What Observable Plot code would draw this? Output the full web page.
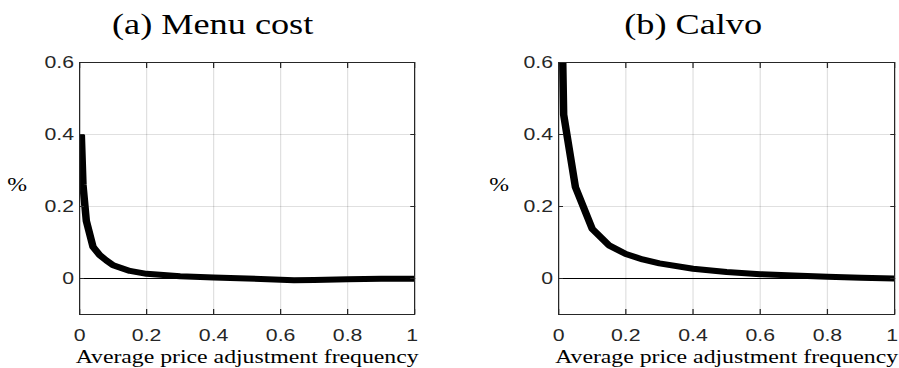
<!DOCTYPE html>
<html>
<head>
<meta charset="utf-8">
<script src="https://cdn.jsdelivr.net/npm/d3@7"></script>
<script src="https://cdn.jsdelivr.net/npm/@observablehq/plot@0.6"></script>
<style>
html, body { margin: 0; padding: 0; background: #fff; }
#fig { position: relative; width: 719.2px; height: 368px; transform: scaleX(1.25); transform-origin: 0 0; }
#fig svg { position: absolute; top: 0; overflow: visible; max-width: none; }
</style>
</head>
<body>
<div id="fig"></div>
<script>
// ---- data ----
const xTicks = [0, 0.2, 0.4, 0.6, 0.8];
const xTickLast = [1];
const xTickMarks = [0, 0.2, 0.4, 0.6, 0.8, 1];
const yTicks = [0, 0.2, 0.4, 0.6];
const gridXTicks = [0.2, 0.4, 0.6, 0.8];
const gridYTicks = [0.2, 0.4];
const titles = ["(a) Menu cost", "(b) Calvo"];
const xLabel = "Average price adjustment frequency";
const yLabel = "%";

const menuX = [0.005, 0.01, 0.02, 0.04, 0.06, 0.08, 0.1, 0.15, 0.2, 0.3, 0.4, 0.5, 0.64, 0.7, 0.8, 0.9, 1];
const menuY = [0.40, 0.26, 0.16, 0.088, 0.065, 0.05, 0.037, 0.021, 0.013, 0.006, 0.003, 0.0, -0.005, -0.004, -0.002, -0.001, -0.001];

const calvoX = [0.01, 0.015, 0.05, 0.1, 0.15, 0.2, 0.25, 0.3, 0.4, 0.5, 0.6, 0.7, 0.8, 0.9, 1];
const calvoY = [0.72, 0.455, 0.254, 0.138, 0.092, 0.068, 0.053, 0.042, 0.027, 0.018, 0.012, 0.008, 0.005, 0.002, 0.0];

const fmt = d => String(d);

function panel({xs, ys, title, titleDx, pctDx, width, marginLeft, marginRight}) {
  const data = xs.map((x, i) => ({x, y: ys[i]}));
  const serif = "'Liberation Serif', 'Times New Roman', serif";
  const sans = "'Liberation Sans', Arial, sans-serif";
  return Plot.plot({
    width, height: 368,
    marginLeft, marginRight, marginTop: 62, marginBottom: 54,
    x: {domain: [0, 1]},
    y: {domain: [-0.1, 0.6]},
    style: {fontFamily: sans, fontSize: "17px", color: "#262626", background: "none", overflow: "visible"},
    marks: [
      Plot.gridX(gridXTicks, {stroke: "#000", strokeOpacity: 0.12}),
      Plot.gridY(gridYTicks, {stroke: "#000", strokeOpacity: 0.12}),
      Plot.ruleY([0], {stroke: "#000", strokeWidth: 1}),
      Plot.line(data, {x: "x", y: "y", stroke: "#000", strokeWidth: 6, strokeLinecap: "butt", clip: true}),
      Plot.frame({stroke: "#262626", strokeWidth: 1}),
      Plot.axisX(xTicks, {anchor: "bottom", tickSize: 0, tickPadding: 14, label: null, fill: "#262626", fontSize: 17, tickFormat: fmt}),
      Plot.axisX(xTickLast, {anchor: "bottom", tickSize: 0, tickPadding: 14, dx: -2, label: null, fill: "#262626", fontSize: 17, tickFormat: fmt}),
      Plot.axisX(xTickMarks, {anchor: "bottom", tickSize: 5, inset: 5, fill: "none", label: null, stroke: "#262626"}),
      Plot.axisX(xTickMarks, {anchor: "top", tickSize: 5, inset: 5, fill: "none", label: null, stroke: "#262626"}),
      Plot.axisY(yTicks, {anchor: "left", tickSize: 0, tickPadding: 4.5, label: null, fill: "#262626", fontSize: 17, tickFormat: fmt}),
      Plot.axisY(yTicks, {anchor: "left", tickSize: 4, inset: 4, fill: "none", label: null, stroke: "#262626"}),
      Plot.axisY(yTicks, {anchor: "right", tickSize: 4, inset: 4, fill: "none", label: null, stroke: "#262626"}),
      Plot.text([title], {frameAnchor: "top", dx: titleDx, dy: -29, lineAnchor: "bottom", fontFamily: serif, fontSize: 29, fill: "#000"}),
      Plot.text([xLabel], {frameAnchor: "bottom", dy: 48, lineAnchor: "bottom", fontFamily: serif, fontSize: 19, fill: "#000"}),
      Plot.text([yLabel], {frameAnchor: "left", dx: pctDx, dy: -4, textAnchor: "middle", fontFamily: serif, fontSize: 19, fill: "#000"})
    ]
  });
}

const fig = document.getElementById("fig");
const left = panel({xs: menuX, ys: menuY, title: titles[0], titleDx: -27.6, pctDx: -50, width: 360, marginLeft: 63.2, marginRight: 28.8});
left.style.left = "0px";
fig.appendChild(left);
const right = panel({xs: calvoX, ys: calvoY, title: titles[1], titleDx: -26.8, pctDx: -47.6, width: 359, marginLeft: 86.4, marginRight: 3.8});
right.style.left = "360px";
fig.appendChild(right);
</script>
</body>
</html>
